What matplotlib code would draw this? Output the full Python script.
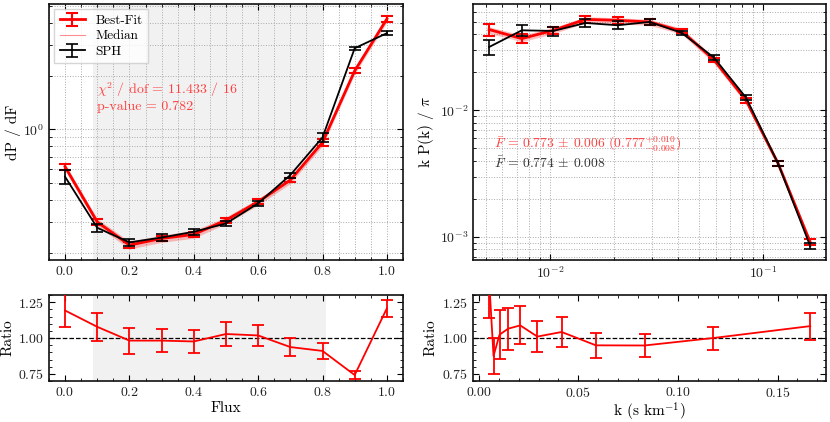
import matplotlib
matplotlib.use("Agg")
import matplotlib.pyplot as plt
from matplotlib.ticker import MultipleLocator, LogLocator, NullFormatter
import numpy as np

plt.rcParams['font.family'] = 'serif'
plt.rcParams['font.serif'] = ['cmr10', 'DejaVu Serif']
plt.rcParams['mathtext.fontset'] = 'cm'
plt.rcParams['axes.formatter.use_mathtext'] = True
plt.rcParams['axes.unicode_minus'] = False

# ---------------- data ----------------
flux = [0.0, 0.1, 0.2, 0.3, 0.4, 0.5, 0.6, 0.7, 0.8, 0.9, 1.0]
pdf_fit = [0.615, 0.300, 0.222, 0.242, 0.255, 0.307, 0.390, 0.517, 0.845, 2.14, 4.20]
pdf_fit_err = [0.023, 0.010, 0.008, 0.008, 0.008, 0.010, 0.012, 0.015, 0.040, 0.07, 0.14]
pdf_med = [0.612, 0.298, 0.222, 0.241, 0.255, 0.306, 0.389, 0.515, 0.842, 2.13, 4.18]
pdf_lo = [0.585, 0.284, 0.211, 0.230, 0.243, 0.293, 0.373, 0.494, 0.808, 2.05, 4.02]
pdf_hi = [0.640, 0.313, 0.233, 0.253, 0.268, 0.320, 0.406, 0.537, 0.877, 2.22, 4.35]
pdf_sph = [0.540, 0.278, 0.230, 0.245, 0.264, 0.294, 0.382, 0.552, 0.900, 2.87, 3.49]
pdf_sph_err = [0.050, 0.015, 0.010, 0.010, 0.010, 0.010, 0.012, 0.018, 0.050, 0.05, 0.10]
pdf_ratio = [1.192, 1.078, 0.982, 0.982, 0.976, 1.028, 1.018, 0.937, 0.910, 0.742, 1.207]
pdf_ratio_err = [0.116, 0.097, 0.090, 0.082, 0.082, 0.081, 0.074, 0.064, 0.055, 0.027, 0.060]

k = [0.0052, 0.0074, 0.0104, 0.0147, 0.0208, 0.0294, 0.0416, 0.0588, 0.0832, 0.1177, 0.1664]
pk_fit = [0.0434, 0.0368, 0.0428, 0.0522, 0.0513, 0.0498, 0.0421, 0.0251, 0.0120, 0.00380, 0.00091]
pk_fit_err = [0.0048, 0.0030, 0.0030, 0.0032, 0.0030, 0.0025, 0.0017, 0.0010, 0.0005, 0.00015, 0.00005]
pk_med = [0.0430, 0.0370, 0.0425, 0.0518, 0.0510, 0.0495, 0.0420, 0.0250, 0.0120, 0.00380, 0.00091]
pk_lo = [0.0405, 0.0348, 0.0402, 0.0490, 0.0483, 0.0468, 0.0398, 0.0236, 0.0113, 0.00358, 0.00086]
pk_hi = [0.0456, 0.0393, 0.0449, 0.0547, 0.0538, 0.0523, 0.0443, 0.0264, 0.0127, 0.00402, 0.00096]
pk_sph = [0.0316, 0.0428, 0.0423, 0.0489, 0.0469, 0.0498, 0.0408, 0.0261, 0.0126, 0.00380, 0.00085]
pk_sph_err = [0.0045, 0.0042, 0.0034, 0.0034, 0.0034, 0.0025, 0.0017, 0.0011, 0.0005, 0.00015, 0.00005]
pk_ratio = [1.40, 0.875, 1.023, 1.065, 1.088, 1.010, 1.042, 0.949, 0.948, 1.000, 1.083]
pk_ratio_err = [0.26, 0.125, 0.170, 0.145, 0.133, 0.108, 0.106, 0.085, 0.080, 0.080, 0.094]

chi_text = r"$\chi^2$ / dof = 11.433 / 16"
p_text = "p-value = 0.782"
fbar_fit = r"$\bar{F}$ = 0.773 $\pm$ 0.006 (0.777$^{+0.010}_{-0.008}$)"
fbar_sph = r"$\bar{F}$ = 0.774 $\pm$ 0.008"

# ---------------- figure ----------------
fig = plt.figure(figsize=(8.3, 4.22), dpi=100)
axTL = fig.add_axes([0.059, 0.384, 0.4265, 0.6065])
axTR = fig.add_axes([0.570, 0.384, 0.4255, 0.6065])
axBL = fig.add_axes([0.059, 0.097, 0.4265, 0.204])
axBR = fig.add_axes([0.570, 0.097, 0.4255, 0.204])

RED = '#ff0000'
tickc = '#222222'

def style(ax, grid=True):
    ax.tick_params(which='both', direction='in', top=True, right=True,
                   labelsize=10, colors='black', labelcolor=tickc)
    ax.tick_params(which='major', length=4, width=0.8)
    ax.tick_params(which='minor', length=2, width=0.6)
    for s in ax.spines.values():
        s.set_linewidth(1.2)
        s.set_color('#111111')
    if grid:
        ax.grid(True, which='both', ls=':', color='#aaaaaa', lw=0.7)
        ax.set_axisbelow(True)

# ---- top-left: flux PDF ----
ax = axTL
ax.axvspan(0.088, 0.805, color='#f1f1f1', zorder=0, lw=0)
ax.fill_between(flux, pdf_lo, pdf_hi, color=RED, alpha=0.25, lw=0, zorder=2)
ax.plot(flux, pdf_med, color=RED, alpha=0.45, lw=0.8, zorder=2, label='Median')
ax.errorbar(flux, pdf_fit, yerr=pdf_fit_err, color=RED, lw=2, capsize=4,
            capthick=1.5, elinewidth=1.5, zorder=3, label='Best-Fit')
ax.errorbar(flux, pdf_sph, yerr=pdf_sph_err, color='black', lw=1.3, capsize=4,
            capthick=1.2, elinewidth=1.2, zorder=4, label='SPH')
ax.set_yscale('log')
ax.set_xlim(-0.05, 1.05)
ax.set_ylim(0.183, 5.1)
ax.xaxis.set_major_locator(MultipleLocator(0.2))
ax.xaxis.set_minor_locator(MultipleLocator(0.05))
ax.yaxis.set_minor_locator(LogLocator(base=10, subs=np.arange(2, 10)))
ax.yaxis.set_minor_formatter(NullFormatter())
ax.set_ylabel('dP / dF', fontsize=11)
ax.yaxis.set_label_coords(-0.079, 0.5)
style(ax)
h, l = ax.get_legend_handles_labels()
order = [l.index('Best-Fit'), l.index('Median'), l.index('SPH')]
leg = ax.legend([h[i] for i in order], [l[i] for i in order], loc='upper left',
                fontsize=9.5, frameon=True, fancybox=False, framealpha=0.8,
                edgecolor='#cccccc', borderpad=0.4, handlelength=1.9,
                labelspacing=0.25, handletextpad=0.8, borderaxespad=0.4)
ax.text(0.136, 0.664, chi_text, transform=ax.transAxes, color='#ff4040',
        fontsize=10, va='center')
ax.text(0.136, 0.598, p_text, transform=ax.transAxes, color='#ff4040',
        fontsize=10, va='center')

# ---- top-right: power spectrum ----
ax = axTR
ax.fill_between(k, pk_lo, pk_hi, color=RED, alpha=0.25, lw=0, zorder=2)
ax.plot(k, pk_med, color=RED, alpha=0.45, lw=0.8, zorder=2)
ax.errorbar(k, pk_fit, yerr=pk_fit_err, color=RED, lw=2, capsize=4,
            capthick=1.5, elinewidth=1.5, zorder=3)
ax.errorbar(k, pk_sph, yerr=pk_sph_err, color='black', lw=1.3, capsize=4,
            capthick=1.2, elinewidth=1.2, zorder=4)
ax.set_xscale('log')
ax.set_yscale('log')
ax.set_ylim(0.00066, 0.069)
for axis in (ax.xaxis, ax.yaxis):
    axis.set_minor_locator(LogLocator(base=10, subs=np.arange(2, 10)))
    axis.set_minor_formatter(NullFormatter())
ax.set_ylabel(r'k P(k) / $\pi$', fontsize=11)
ax.yaxis.set_label_coords(-0.105, 0.5)
style(ax)
ax.text(0.06, 0.455, fbar_fit, transform=ax.transAxes, color='#ff4040',
        fontsize=9.8, va='center')
ax.text(0.06, 0.378, fbar_sph, transform=ax.transAxes, color='#333333',
        fontsize=9.8, va='center')

# ---- bottom-left: ratio ----
ax = axBL
ax.axvspan(0.088, 0.81, color='#f1f1f1', zorder=0, lw=0)
ax.axhline(1.0, color='black', ls='--', lw=0.9, zorder=1)
ax.errorbar(flux, pdf_ratio, yerr=pdf_ratio_err, color=RED, lw=1.3, capsize=4,
            capthick=1.3, elinewidth=1.3, zorder=3)
ax.set_xlim(-0.05, 1.05)
ax.set_ylim(0.7, 1.3)
ax.xaxis.set_major_locator(MultipleLocator(0.2))
ax.xaxis.set_minor_locator(MultipleLocator(0.05))
ax.yaxis.set_major_locator(MultipleLocator(0.25))
ax.yaxis.set_minor_locator(MultipleLocator(0.05))
ax.set_ylabel('Ratio', fontsize=11)
ax.set_xlabel('Flux', fontsize=11, labelpad=2)
ax.yaxis.set_label_coords(-0.097, 0.5)
style(ax, grid=False)

# ---- bottom-right: ratio ----
ax = axBR
ax.axhline(1.0, color='black', ls='--', lw=0.9, zorder=1)
ax.errorbar(k, pk_ratio, yerr=pk_ratio_err, color=RED, lw=1.3, capsize=4,
            capthick=1.3, elinewidth=1.3, zorder=3)
ax.set_ylim(0.7, 1.3)
ax.xaxis.set_major_locator(MultipleLocator(0.05))
ax.xaxis.set_minor_locator(MultipleLocator(0.01))
ax.yaxis.set_major_locator(MultipleLocator(0.25))
ax.yaxis.set_minor_locator(MultipleLocator(0.05))
ax.set_ylabel('Ratio', fontsize=11)
ax.set_xlabel(r'k (s km$^{-1}$)', fontsize=11, labelpad=1)
ax.yaxis.set_label_coords(-0.10, 0.5)
style(ax, grid=False)

fig.savefig('out.png', dpi=100)
